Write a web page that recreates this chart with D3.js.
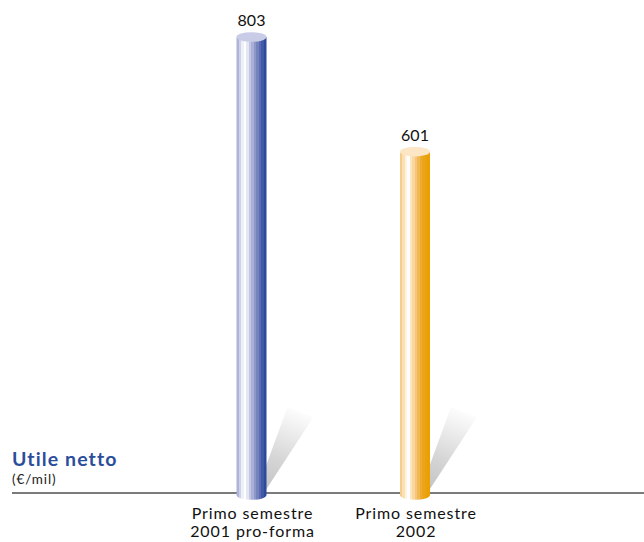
<!DOCTYPE html>
<html><head><meta charset="utf-8">
<script src="https://cdn.jsdelivr.net/npm/d3@7"></script>
<style>body{margin:0;background:#fff}svg{display:block}</style>
</head><body>
<script>
const categories = ["Primo semestre 2001 pro-forma", "Primo semestre 2002"];
const labelLines = [["Primo semestre", "2001 pro-forma"], ["Primo semestre", "2002"]];
const values = [803, 601];
const valueLabels = ["803", "601"];
const title = "Utile netto";
const unit = "(€/mil)";

const W = 644, H = 542;
const FONT = "Lato, 'Open Sans', sans-serif";
const svg = d3.select("body").append("svg").attr("width", W).attr("height", H);
const baseY = 493;
const y = d3.scaleLinear().domain([0, 803]).range([baseY, 37]);
const x = d3.scalePoint().domain(categories).range([251.5, 415]);
const rx = 15, ry = 4.8;

const defs = svg.append("defs");
const palettes = [
  {stops:["#aeb3d8","#cfd2ea","#eef0f8","#ffffff","#e4e6f3","#c3c7e3","#a9afd6","#8e97c9","#7482bd","#5a6cb2","#4159a6","#2d4a9c"], top:"#c9cce7"},
  {stops:["#f5cd8a","#fbe0b5","#fff3e0","#ffffff","#fde6c0","#fad7a0","#f6c67a","#f2b855","#eeab30","#eca51a","#eaa20c","#e9a000"], top:"#fde6c6"}
];
palettes.forEach((p, i) => {
  const g = defs.append("linearGradient").attr("id", "cyl" + i).attr("x1", 0).attr("x2", 1).attr("y1", 0).attr("y2", 0);
  const n = p.stops.length;
  p.stops.forEach((c, k) => {
    g.append("stop").attr("offset", k / n).attr("stop-color", c);
    g.append("stop").attr("offset", (k + 1) / n).attr("stop-color", c);
  });
});

// shadows
categories.forEach((c, i) => {
  const cx = x(c), ex = cx + rx;
  const sg = defs.append("linearGradient").attr("id", "shadow" + i).attr("gradientUnits", "userSpaceOnUse")
    .attr("x1", ex).attr("y1", baseY).attr("x2", ex + 34).attr("y2", 408);
  sg.append("stop").attr("offset", 0).attr("stop-color", "#c2c2c2");
  sg.append("stop").attr("offset", 0.4).attr("stop-color", "#d6d6d6");
  sg.append("stop").attr("offset", 0.8).attr("stop-color", "#f2f2f2");
  sg.append("stop").attr("offset", 1).attr("stop-color", "#ffffff");
  const pts = [[ex - 2, 470], [ex + 21, 407], [ex + 47, 417], [ex - 2, 492]];
  svg.append("path").attr("d", d3.line()(pts) + "Z").attr("fill", `url(#shadow${i})`);
});

// baseline
svg.append("line").attr("x1", 12).attr("x2", W).attr("y1", baseY).attr("y2", baseY)
  .attr("stroke", "#7a7a7a").attr("stroke-width", 2);

// cylinders
categories.forEach((c, i) => {
  const cx = x(c), top = y(values[i]);
  const g = svg.append("g");
  const body = `M${cx - rx},${top} L${cx - rx},${baseY + 2} A${rx},${ry} 0 0 0 ${cx + rx},${baseY + 2} L${cx + rx},${top} Z`;
  g.append("path").attr("d", body).attr("fill", `url(#cyl${i})`);
  g.append("ellipse").attr("cx", cx).attr("cy", top).attr("rx", rx).attr("ry", ry).attr("fill", palettes[i].top);
  svg.append("text").attr("x", cx).attr("y", top - 11).attr("text-anchor", "middle")
    .attr("font-family", FONT).attr("font-size", 16).attr("fill", "#111").text(valueLabels[i]);
  labelLines[i].forEach((l, k) => {
    svg.append("text").attr("x", cx + 1).attr("y", 519 + k * 17.5).attr("text-anchor", "middle")
      .attr("font-family", FONT).attr("font-size", 16).attr("letter-spacing", 0.9)
      .attr("fill", "#111").text(l);
  });
});

svg.append("text").attr("x", 12).attr("y", 466).attr("font-family", FONT)
  .attr("font-weight", "bold").attr("font-size", 19.5).attr("letter-spacing", 1.1)
  .attr("fill", "#2b4e9b").text(title);
svg.append("text").attr("x", 12).attr("y", 483.5).attr("font-family", FONT)
  .attr("font-size", 13.5).attr("letter-spacing", 0.9).attr("fill", "#222").text(unit);
</script>
</body></html>
